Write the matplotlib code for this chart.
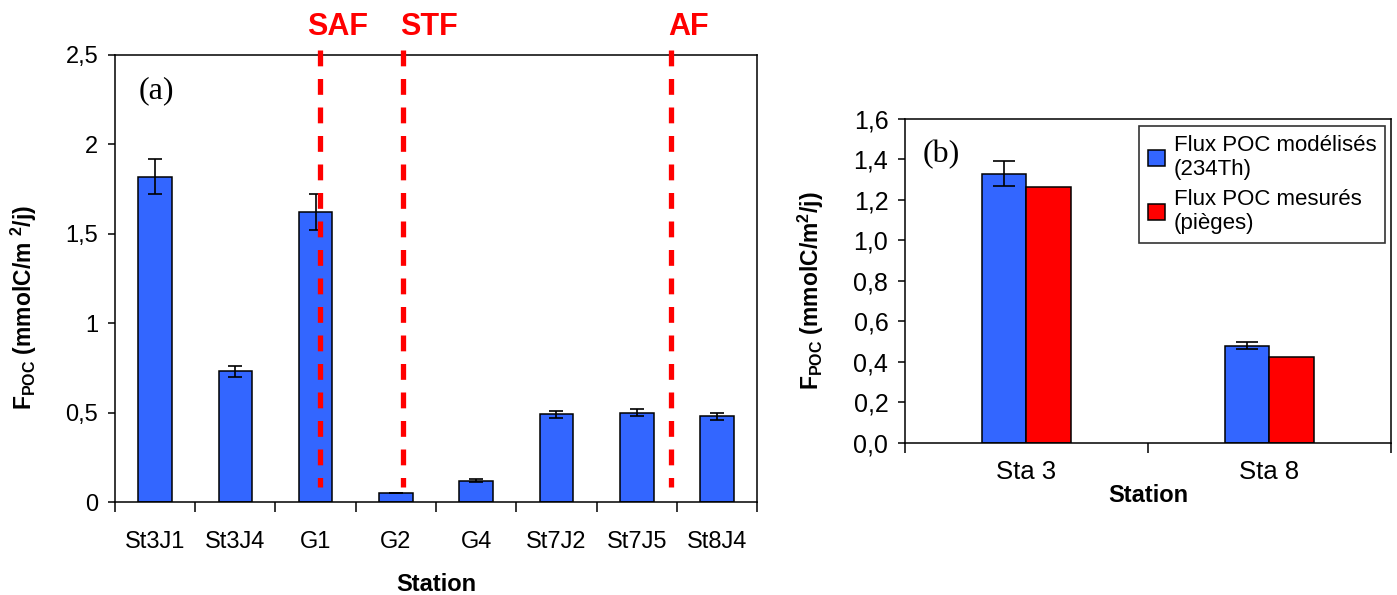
"""
Two-panel POC flux chart: (a) per-station 234Th-derived flux with fronts,
(b) modelled vs trap-measured flux at Sta 3 / Sta 8.
"""
import matplotlib
matplotlib.use('Agg')
import matplotlib.pyplot as plt
import numpy as np
from matplotlib.ticker import FuncFormatter, FixedLocator

C_BLUE, C_RED, C_INK = '#3366ff', '#ff0000', '#000000'

plt.rcParams.update({
    'font.family': 'Liberation Sans',
    'mathtext.fontset': 'custom',
    'mathtext.rm': 'Liberation Sans',
    'mathtext.bf': 'Liberation Sans:bold',
    'axes.edgecolor': C_INK,
    'axes.linewidth': 1.1,
    'xtick.direction': 'out',
    'ytick.direction': 'out',
})

# ── data ───────────────────────────────────────────────────────────────
stations_a = ['St3J1', 'St3J4', 'G1', 'G2', 'G4', 'St7J2', 'St7J5', 'St8J4']
flux_a = [1.82, 0.73, 1.62, 0.05, 0.12, 0.49, 0.50, 0.48]
err_a = [0.10, 0.03, 0.10, 0.0, 0.01, 0.02, 0.02, 0.02]

fronts = ['SAF', 'STF', 'AF']
front_x = [2.06, 3.09, 6.43]        # position in station units
front_label_x = [1.90, 3.055, 6.39]

stations_b = ['Sta 3', 'Sta 8']
flux_mod = [1.33, 0.48]
err_mod = [0.063, 0.017]
flux_mes = [1.265, 0.423]

comma = FuncFormatter(lambda v, p: f'{v:g}'.replace('.', ','))
comma1 = FuncFormatter(lambda v, p: f'{v:.1f}'.replace('.', ','))

fig = plt.figure(figsize=(13.97, 5.95), dpi=100)

# ── Panel (a) ──────────────────────────────────────────────────────────
ax = fig.add_axes([0.0823, 0.1563, 0.4596, 0.7513])
x = np.arange(len(stations_a))
ax.bar(x, flux_a, 0.42, color=C_BLUE, edgecolor=C_INK, lw=1.1, zorder=2)
ax.errorbar(x, flux_a, yerr=err_a, fmt='none', ecolor=C_INK, elinewidth=1.2,
            capsize=4.8, capthick=1.2, zorder=3)
ax.set_xlim(-0.5, len(stations_a) - 0.5)
ax.set_ylim(0, 2.5)
ax.set_yticks(np.arange(0, 2.51, 0.5))
ax.yaxis.set_major_formatter(comma)
ax.set_xticks(x)
ax.set_xticklabels(stations_a)
ax.xaxis.set_minor_locator(FixedLocator(np.arange(-0.5, len(stations_a), 1.0)))
ax.tick_params(axis='x', which='major', length=0, pad=21, labelsize=17)
ax.tick_params(axis='x', which='minor', length=7, width=1.1)
ax.tick_params(axis='y', length=5, width=1.1, labelsize=17, pad=7)
ax.set_xlabel('Station', fontsize=17, fontweight='bold', labelpad=14)
ax.set_ylabel(r'$\mathbf{F_{POC}}$ (mmolC/m $^{\mathbf{2}}$/j)', fontsize=16.5,
              fontweight='bold')
ax.yaxis.set_label_coords(-0.118, 0.436)

for name, fx, lx in zip(fronts, front_x, front_label_x):
    ax.plot([fx, fx], [2.528, 0.084], color=C_RED, lw=3.8,
            linestyle=(0, (3.0, 2.4)), clip_on=False, zorder=4)
    ax.text(lx, 2.655, name, color=C_RED, fontsize=22, fontweight='bold',
            ha='left', va='center')

ax.text(0.065, 0.92, '(a)', transform=ax.transAxes, fontsize=23,
        family='Liberation Serif', ha='center', va='center')

# ── Panel (b) ──────────────────────────────────────────────────────────
bx = fig.add_axes([0.6478, 0.2555, 0.3479, 0.5445])
xb = np.arange(len(stations_b))
w = 0.185
bx.bar(xb - w / 2, flux_mod, w, color=C_BLUE, edgecolor=C_INK, lw=1.1,
       label='Flux POC modélisés\n(234Th)', zorder=2)
bx.bar(xb + w / 2, flux_mes, w, color=C_RED, edgecolor=C_INK, lw=1.1,
       label='Flux POC mesurés\n(pièges)', zorder=2)
bx.errorbar(xb - w / 2, flux_mod, yerr=err_mod, fmt='none', ecolor=C_INK,
            elinewidth=1.2, capsize=8, capthick=1.2, zorder=3)
bx.set_xlim(-0.5, len(stations_b) - 0.5)
bx.set_ylim(0, 1.6)
bx.set_yticks(np.arange(0, 1.61, 0.2))
bx.yaxis.set_major_formatter(comma1)
bx.set_xticks(xb)
bx.set_xticklabels(stations_b)
bx.xaxis.set_minor_locator(FixedLocator(np.arange(-0.5, len(stations_b), 1.0)))
bx.tick_params(axis='x', which='major', length=0, pad=12, labelsize=18.5)
bx.tick_params(axis='x', which='minor', length=7, width=1.1)
bx.tick_params(axis='y', length=5, width=1.1, labelsize=18, pad=7)
bx.set_xlabel('Station', fontsize=17, fontweight='bold', labelpad=0)
bx.set_ylabel(r'$\mathbf{F_{POC}}$ (mmolC/m$^{\mathbf{2}}$/j)', fontsize=16.5,
              fontweight='bold')
bx.yaxis.set_label_coords(-0.162, 0.47)
bx.text(0.074, 0.889, '(b)', transform=bx.transAxes, fontsize=23,
        family='Liberation Serif', ha='center', va='center')

leg = bx.legend(loc='upper right', bbox_to_anchor=(0.988, 0.978),
                borderaxespad=0, fontsize=16, frameon=True, fancybox=False,
                handlelength=0.75, handleheight=0.75, handletextpad=0.4,
                labelspacing=0.4, borderpad=0.4)
leg.get_frame().set_edgecolor(C_INK)
leg.get_frame().set_linewidth(1.2)

fig.savefig('out.png', dpi=100)
